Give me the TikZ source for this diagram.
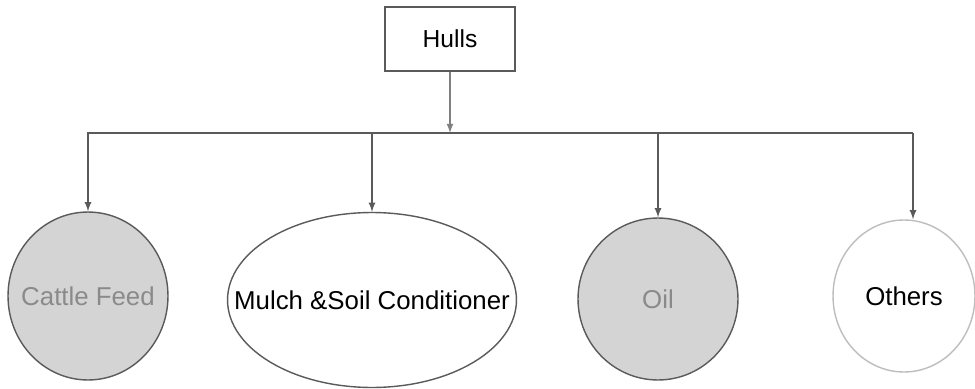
\documentclass[tikz,border=0pt]{standalone}
\usepackage{fontspec}
\setmainfont{Liberation Sans}
\usetikzlibrary{shapes.geometric}
\definecolor{linegray}{HTML}{5A5A5A}
\definecolor{fillgray}{HTML}{D4D4D4}
\definecolor{textgray}{HTML}{8A8A8A}
\definecolor{rimgray}{HTML}{BDBDBD}
\tikzset{
  box/.style={draw=linegray,line width=0.8pt,minimum width=2.6cm,minimum height=1.28cm,
    font=\fontsize{14}{16}\selectfont},
  product/.style={ellipse,draw=linegray,line width=0.8pt,inner sep=0pt,
    font=\fontsize{14.7}{16}\selectfont},
  link/.style={draw=linegray,line width=0.8pt}
}
\begin{document}
\begin{tikzpicture}[>=latex,x=0.02cm,y=-0.02cm]
  \useasboundingbox (0,0) rectangle (975,389);
  \node[box] (hulls) at (450,39) {Hulls};
  \node[product,fill=fillgray,text=textgray,minimum width=3.2cm,minimum height=3.36cm] (feed) at (88,296) {\makebox[0pt]{Cattle Feed}};
  \node[product,minimum width=5.78cm,minimum height=3.5cm] (mulch) at (372,300) {\makebox[0pt]{Mulch \&Soil Conditioner}};
  \node[product,fill=fillgray,text=textgray,minimum width=3.2cm,minimum height=3.24cm] (oil) at (658,299) {\makebox[0pt]{Oil}};
  \node[product,draw=rimgray,minimum width=2.84cm,minimum height=3.04cm] (others) at (904,296) {\makebox[0pt]{Others}};
  \coordinate (split) at (450,133);
  \coordinate (split-r) at (913,133);
  % stem and branches
  \draw[link,->,draw=gray] (hulls.south) -- (split);
  \draw[link] (split) -- (split-r);
  \draw[link,->] (split) -| (feed.north);
  \draw[link,->] (split) -| (mulch.north);
  \draw[link,->] (split) -| (oil.north);
  \draw[link,->] (split-r) -- (split-r |- others.north);
\end{tikzpicture}
\end{document}
